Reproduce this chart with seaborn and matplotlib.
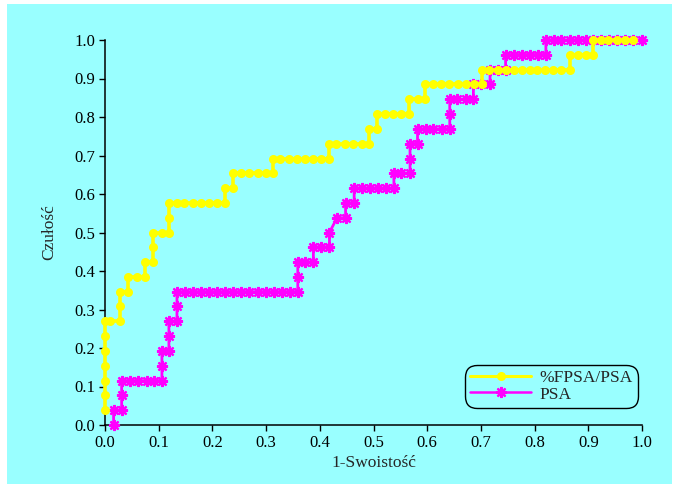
import matplotlib
matplotlib.use("Agg")
import matplotlib.pyplot as plt
from matplotlib.patches import Rectangle
from matplotlib.lines import Line2D
import seaborn as sns
import pandas as pd

# %FPSA/PSA ROC points (1-specificity, sensitivity)
fpsa_x = [0, 0, 0, 0, 0, 0, 0,
          0.009, 0.028, 0.028, 0.028, 0.043,
          0.043, 0.059, 0.075, 0.075, 0.090,
          0.090, 0.090, 0.106, 0.119, 0.119, 0.119,
          0.134, 0.148, 0.163, 0.179, 0.194, 0.209, 0.223,
          0.223, 0.239, 0.239, 0.253, 0.269, 0.284, 0.299, 0.313,
          0.313, 0.326, 0.342, 0.357, 0.372, 0.388, 0.403, 0.418,
          0.418, 0.431, 0.447, 0.462, 0.478, 0.492,
          0.492, 0.506,
          0.506, 0.521, 0.537, 0.551, 0.567,
          0.567, 0.582, 0.596,
          0.596, 0.611, 0.626, 0.641, 0.657, 0.672, 0.687, 0.702,
          0.702, 0.716, 0.731, 0.746, 0.761, 0.776, 0.791, 0.805, 0.820, 0.835, 0.850, 0.865,
          0.865, 0.880, 0.895, 0.909,
          0.909, 0.923, 0.937, 0.953, 0.968, 0.984]
fpsa_y = [0.038, 0.077, 0.115, 0.154, 0.192, 0.231, 0.269,
          0.269, 0.269, 0.308, 0.346, 0.346,
          0.385, 0.385, 0.385, 0.423, 0.423,
          0.462, 0.500, 0.500, 0.500, 0.538, 0.577,
          0.577, 0.577, 0.577, 0.577, 0.577, 0.577, 0.577,
          0.615, 0.615, 0.654, 0.654, 0.654, 0.654, 0.654, 0.654,
          0.692, 0.692, 0.692, 0.692, 0.692, 0.692, 0.692, 0.692,
          0.731, 0.731, 0.731, 0.731, 0.731, 0.731,
          0.769, 0.769,
          0.808, 0.808, 0.808, 0.808, 0.808,
          0.846, 0.846, 0.846,
          0.885, 0.885, 0.885, 0.885, 0.885, 0.885, 0.885, 0.885,
          0.923, 0.923, 0.923, 0.923, 0.923, 0.923, 0.923, 0.923, 0.923, 0.923, 0.923, 0.923,
          0.962, 0.962, 0.962, 0.962,
          1.0, 1.0, 1.0, 1.0, 1.0, 1.0]

# PSA ROC points
psa_x = [0.016, 0.016, 0.031, 0.031, 0.031,
         0.047, 0.062, 0.078, 0.092, 0.106,
         0.106, 0.106, 0.119, 0.119, 0.119, 0.134, 0.134, 0.134,
         0.149, 0.164, 0.179, 0.194, 0.209, 0.224, 0.239, 0.254, 0.269, 0.284,
         0.299, 0.314, 0.329, 0.344, 0.359,
         0.359, 0.359, 0.372, 0.388, 0.388, 0.403, 0.418, 0.418,
         0.432, 0.448, 0.448, 0.464, 0.464, 0.478, 0.493, 0.509, 0.523, 0.538,
         0.538, 0.552, 0.568, 0.568, 0.568, 0.582, 0.582, 0.597, 0.611, 0.627, 0.642,
         0.642, 0.642, 0.656, 0.672, 0.686, 0.686, 0.701, 0.717, 0.717, 0.731, 0.746,
         0.746, 0.761, 0.776, 0.791, 0.806, 0.821,
         0.821, 0.836, 0.850, 0.866, 0.881, 0.896, 0.909, 0.924, 0.939, 0.954, 0.969, 0.984, 1.0]
psa_y = [0.0, 0.038, 0.038, 0.077, 0.115,
         0.115, 0.115, 0.115, 0.115, 0.115,
         0.154, 0.192, 0.192, 0.231, 0.269, 0.269, 0.308, 0.346,
         0.346, 0.346, 0.346, 0.346, 0.346, 0.346, 0.346, 0.346, 0.346, 0.346,
         0.346, 0.346, 0.346, 0.346, 0.346,
         0.385, 0.423, 0.423, 0.423, 0.462, 0.462, 0.462, 0.500,
         0.538, 0.538, 0.577, 0.577, 0.615, 0.615, 0.615, 0.615, 0.615, 0.615,
         0.654, 0.654, 0.654, 0.692, 0.731, 0.731, 0.769, 0.769, 0.769, 0.769, 0.769,
         0.808, 0.846, 0.846, 0.846, 0.846, 0.885, 0.885, 0.885, 0.923, 0.923, 0.923,
         0.962, 0.962, 0.962, 0.962, 0.962, 0.962,
         1.0, 1.0, 1.0, 1.0, 1.0, 1.0, 1.0, 1.0, 1.0, 1.0, 1.0, 1.0, 1.0]

series_names = ["%FPSA/PSA", "PSA"]
tick_vals = [0.0, 0.1, 0.2, 0.3, 0.4, 0.5, 0.6, 0.7, 0.8, 0.9, 1.0]
tick_labels = ["0.0", "0.1", "0.2", "0.3", "0.4", "0.5", "0.6", "0.7", "0.8", "0.9", "1.0"]

sns.set_style("ticks")
plt.rcParams['font.family'] = ['Liberation Serif', 'DejaVu Serif']

CYAN = "#99FFFF"
fig = plt.figure(figsize=(6.78, 4.88), dpi=100, facecolor="white")
fig.patches.append(Rectangle((7/678, 1-484/488), (672-7)/678, (484-4)/488,
                             transform=fig.transFigure, facecolor=CYAN,
                             edgecolor="none", zorder=-10))
ax = fig.add_axes([105/678, 1-425/488, (642-105)/678, (425-40)/488])
ax.set_facecolor("none")

df_psa = pd.DataFrame({"x": psa_x, "y": psa_y})
df_fpsa = pd.DataFrame({"x": fpsa_x, "y": fpsa_y})

psa_marker = (8, 2, 0)
sns.lineplot(data=df_psa, x="x", y="y", sort=False, estimator=None, ax=ax,
             color="#FF00FF", linewidth=2.0, marker=psa_marker, markersize=8,
             markeredgewidth=1.6, markeredgecolor="#FF00FF", clip_on=False, zorder=3)
sns.lineplot(data=df_fpsa, x="x", y="y", sort=False, estimator=None, ax=ax,
             color="#FFFF00", linewidth=2.6, marker="o", markersize=6.5,
             markeredgewidth=0, clip_on=False, zorder=4)

ax.set_xlim(0, 1)
ax.set_ylim(0, 1)
ax.set_xticks(tick_vals)
ax.set_xticklabels(tick_labels)
ax.set_yticks(tick_vals)
ax.set_yticklabels(tick_labels)
ax.tick_params(direction="out", length=4, width=1, labelsize=12, colors="black", pad=3)
for s in ["top", "right"]:
    ax.spines[s].set_visible(False)
for s in ["left", "bottom"]:
    ax.spines[s].set_color("black")
    ax.spines[s].set_linewidth(1.1)

ax.set_xlabel("1-Swoistość", fontsize=12.5, labelpad=3)
ax.set_ylabel("Czułość", fontsize=12.5, labelpad=12)

handles = [Line2D([], [], color="#FFFF00", linewidth=2.2, marker="o", markersize=6.5, markeredgewidth=0),
           Line2D([], [], color="#FF00FF", linewidth=1.8, marker=psa_marker, markersize=8, markeredgewidth=1.6)]
leg = ax.legend(handles, series_names, loc="lower right", bbox_to_anchor=(0.985, 0.056),
                fontsize=12.5, frameon=True, fancybox=True, edgecolor="black", facecolor=CYAN,
                framealpha=1, handlelength=3.5, borderpad=0.05, labelspacing=0.0,
                handletextpad=0.5, borderaxespad=0)
leg.get_frame().set_linewidth(1.0)
leg.get_frame().set_boxstyle("round,pad=0.25,rounding_size=0.7")

fig.savefig("out.png", dpi=100, facecolor="white")
